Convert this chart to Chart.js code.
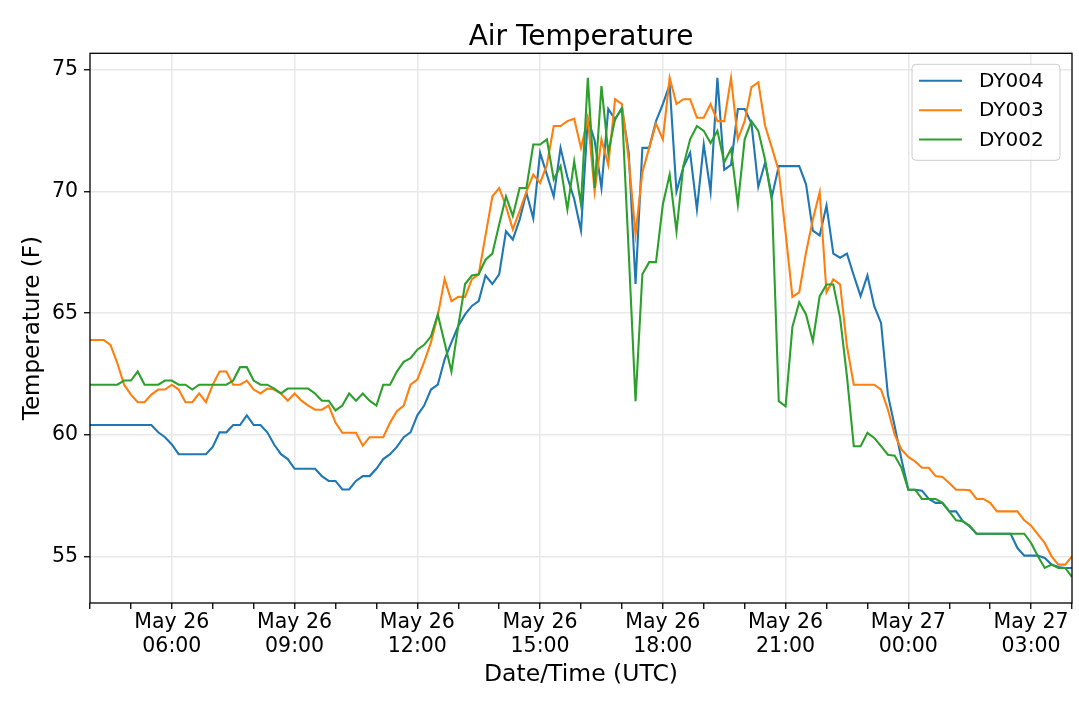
<!DOCTYPE html>
<html>
<head>
<meta charset="utf-8">
<title>Air Temperature</title>
<script src="https://cdn.jsdelivr.net/npm/chart.js@4.4.1/dist/chart.umd.min.js"></script>
<style>
  html, body { margin: 0; padding: 0; background: #fff; }
  #wrap { width: 1079px; height: 706px; position: relative; }
</style>
</head>
<body>
<div id="wrap"><canvas id="air-temp"></canvas></div>
<script>
(function () {
    "use strict";

    // Readings every 10 minutes from May 26 04:00 UTC
    var startHour = 4;
    var startDay = 26;
    var stepMinutes = 10;

    var seriesNames = ["DY004", "DY003", "DY002"];
    var seriesColors = ["#1f77b4", "#ff7f0e", "#2ca02c"];

    var dy004 = [
        60.4, 60.4, 60.4, 60.4, 60.4, 60.4, 60.4, 60.4, 60.4, 60.4,
        60.1, 59.9, 59.6, 59.2, 59.2, 59.2, 59.2, 59.2, 59.5, 60.1,
        60.1, 60.4, 60.4, 60.8, 60.4, 60.4, 60.1, 59.6, 59.2, 59.0,
        58.6, 58.6, 58.6, 58.6, 58.3, 58.1, 58.1, 57.75, 57.75, 58.1,
        58.3, 58.3, 58.6, 59.0, 59.2, 59.5, 59.9, 60.1, 60.8, 61.2,
        61.86, 62.06, 63.1, 63.8, 64.47, 64.95, 65.3, 65.5, 66.55, 66.2,
        66.6, 68.37, 68.03, 68.85, 69.95, 68.9, 71.6, 70.7, 69.8, 71.8,
        70.6, 69.7, 68.4, 73.0, 72.1, 70.15, 73.4, 72.97, 73.45, 71.6,
        66.2, 71.8, 71.8, 72.9, 73.6, 74.4, 70.0, 71.0, 71.6, 69.27,
        71.94, 70.0, 74.68, 70.9, 71.1, 73.4, 73.4, 72.8, 70.2, 71.2,
        69.8, 71.05, 71.05, 71.05, 71.05, 70.3, 68.4, 68.2, 69.43, 67.45,
        67.28, 67.45, 66.55, 65.7, 66.55, 65.29, 64.6, 61.65, 60.35, 58.98,
        57.74, 57.74, 57.7, 57.36, 57.2, 57.2, 56.85, 56.85, 56.44, 56.23,
        55.93, 55.93, 55.93, 55.93, 55.93, 55.93, 55.34, 55.03, 55.03, 55.03,
        54.93, 54.66, 54.56, 54.52, 54.52
    ];

    var dy003 = [
        63.9, 63.9, 63.9, 63.7, 62.95, 62.06, 61.65, 61.34, 61.34, 61.65,
        61.86, 61.86, 62.06, 61.86, 61.34, 61.34, 61.7, 61.34, 62.06, 62.6,
        62.6, 62.06, 62.06, 62.23, 61.86, 61.7, 61.9, 61.86, 61.7, 61.4,
        61.7, 61.4, 61.2, 61.03, 61.03, 61.2, 60.5, 60.08, 60.08, 60.08,
        59.55, 59.9, 59.9, 59.9, 60.5, 60.97, 61.2, 62.06, 62.27, 63.0,
        63.8, 64.9, 66.4, 65.5, 65.67, 65.67, 66.4, 66.6, 68.2, 69.8,
        70.15, 69.4, 68.45, 69.2, 70.0, 70.7, 70.36, 71.1, 72.7, 72.7,
        72.9, 73.0, 71.8, 73.0, 70.0, 72.15, 71.1, 73.8, 73.6, 71.3,
        68.24, 70.8, 71.8, 72.8, 72.15, 74.68, 73.6, 73.8, 73.8, 73.04,
        73.04, 73.6, 72.9, 72.9, 74.68, 72.15, 72.9, 74.3, 74.5, 72.7,
        71.8, 70.85, 68.3, 65.67, 65.86, 67.5, 68.85, 69.98, 65.86, 66.39,
        66.18, 63.64, 62.06, 62.06, 62.06, 62.06, 61.86, 61.04, 60.0, 59.39,
        59.09, 58.9, 58.64, 58.64, 58.3, 58.26, 58.02, 57.74, 57.74, 57.72,
        57.36, 57.36, 57.2, 56.85, 56.85, 56.85, 56.85, 56.48, 56.26, 55.9,
        55.55, 55.0, 54.66, 54.66, 55.0
    ];

    var dy002 = [
        62.06, 62.06, 62.06, 62.06, 62.06, 62.23, 62.23, 62.6, 62.06, 62.06,
        62.06, 62.23, 62.23, 62.06, 62.06, 61.86, 62.06, 62.06, 62.06, 62.06,
        62.06, 62.23, 62.78, 62.78, 62.23, 62.06, 62.06, 61.9, 61.7, 61.9,
        61.9, 61.9, 61.9, 61.7, 61.4, 61.4, 61.0, 61.2, 61.7, 61.4,
        61.7, 61.4, 61.2, 62.06, 62.06, 62.6, 63.0, 63.15, 63.5, 63.7,
        64.05, 64.95, 63.78, 62.6, 64.47, 66.2, 66.55, 66.6, 67.2, 67.45,
        68.65, 69.8, 69.0, 70.15, 70.15, 71.94, 71.94, 72.15, 70.5, 71.05,
        69.27, 71.25, 69.47, 74.68, 70.15, 74.34, 71.6, 73.0, 73.4, 67.5,
        61.38, 66.6, 67.1, 67.1, 69.47, 70.7, 68.37, 71.05, 72.15, 72.7,
        72.5, 72.0, 72.5, 71.2, 71.76, 69.47, 72.15, 72.9, 72.5, 71.3,
        69.6, 61.38, 61.17, 64.44, 65.45, 64.95, 63.85, 65.7, 66.18, 66.18,
        64.8, 62.4, 59.53, 59.53, 60.08, 59.87, 59.53, 59.18, 59.14, 58.64,
        57.74, 57.74, 57.36, 57.36, 57.36, 57.2, 56.85, 56.48, 56.44, 56.26,
        55.93, 55.93, 55.93, 55.93, 55.93, 55.93, 55.93, 55.93, 55.55, 55.0,
        54.52, 54.66, 54.52, 54.52, 54.15
    ];

    var seriesValues = [dy004, dy003, dy002];

    var yTicks = [55, 60, 65, 70, 75];
    var yRange = [53.08, 75.69];
    var xRange = [0, 24];          // hours after start
    var labelEveryHours = 3;

    var gridColor = "#e8e8e8";

    Chart.defaults.font.family = "'DejaVu Sans', sans-serif";
    Chart.defaults.color = "#000";


    // Helpers
    function pad2(n) {
        return (n < 10 ? "0" : "") + n;
    }

    function clockOf(h) {
        return (startHour + h) % 24;
    }

    function isMajor(h) {
        return clockOf(h) % labelEveryHours === 0;
    }

    function toPoints(values) {
        return values.map(function (v, i) {
            return { x: i * stepMinutes / 60, y: v };
        });
    }

    var hourTicks = [];
    for (var h = xRange[0]; h <= xRange[1]; h++) {
        hourTicks.push(h);
    }


    // Frame around the plot area
    var frame = {
        id: "frame",
        afterDatasetsDraw: function (chart) {
            var a = chart.chartArea, ctx = chart.ctx;
            ctx.save();
            ctx.strokeStyle = "#000";
            ctx.lineWidth = 1.3;
            ctx.strokeRect(a.left, a.top, a.right - a.left, a.bottom - a.top);
            ctx.restore();
        }
    };


    // Legend inside the top right corner
    var insetLegend = {
        id: "insetLegend",
        afterDraw: function (chart) {
            var a = chart.chartArea, ctx = chart.ctx;
            var w = 148, h = 96;
            var x = a.right - 12 - w, y = a.top + 11;
            ctx.save();
            ctx.beginPath();
            if (ctx.roundRect) {
                ctx.roundRect(x, y, w, h, 4);
            } else {
                ctx.rect(x, y, w, h);
            }
            ctx.fillStyle = "rgba(255,255,255,0.8)";
            ctx.fill();
            ctx.strokeStyle = "#cccccc";
            ctx.lineWidth = 1;
            ctx.stroke();

            ctx.font = "20px 'DejaVu Sans', sans-serif";
            ctx.textBaseline = "middle";
            ctx.textAlign = "left";
            chart.data.datasets.forEach(function (ds, i) {
                var ry = y + 16.5 + i * 29.4;
                ctx.beginPath();
                ctx.moveTo(x + 7, ry);
                ctx.lineTo(x + 50, ry);
                ctx.strokeStyle = ds.borderColor;
                ctx.lineWidth = 2;
                ctx.stroke();
                ctx.fillStyle = "#000";
                ctx.fillText(ds.label, x + 67, ry + 1);
            });
            ctx.restore();
        }
    };


    // Chart
    var ctx = document.getElementById("air-temp").getContext("2d");
    var myChart = new Chart(ctx, {
        type: "line",
        data: {
            datasets: seriesNames.map(function (name, i) {
                return {
                    label: name,
                    data: toPoints(seriesValues[i]),
                    borderColor: seriesColors[i],
                    backgroundColor: seriesColors[i],
                    borderWidth: 2.1,
                    pointRadius: 0,
                    tension: 0,
                    fill: false,
                    order: seriesNames.length - i
                };
            })
        },
        options: {
            responsive: true,
            maintainAspectRatio: false,
            animation: false,
            layout: { padding: { left: 0, right: 7, top: 0, bottom: 0 } },
            plugins: {
                legend: { display: false },
                tooltip: { enabled: false },
                title: {
                    display: true,
                    fullSize: false,
                    text: "Air Temperature",
                    color: "#000",
                    font: { size: 28, weight: "normal", lineHeight: 1 },
                    padding: { top: 24, bottom: 1.3 }
                }
            },
            scales: {
                x: {
                    type: "linear",
                    min: xRange[0],
                    max: xRange[1],
                    afterBuildTicks: function (s) {
                        s.ticks = hourTicks.map(function (v) { return { value: v }; });
                    },
                    afterFit: function (s) { s.height = 103; },
                    border: { display: false },
                    grid: {
                        color: function (c) {
                            return c.tick && isMajor(c.tick.value) ? gridColor : "rgba(0,0,0,0)";
                        },
                        lineWidth: 1.5,
                        tickColor: "#000",
                        tickLength: 6,
                        tickWidth: 1.3
                    },
                    ticks: {
                        autoSkip: false,
                        maxRotation: 0,
                        minRotation: 0,
                        padding: 2,
                        font: { size: 20.5, lineHeight: 1.17 },
                        callback: function (v) {
                            if (!isMajor(v)) return "";
                            var day = startDay + Math.floor((startHour + v) / 24);
                            return ["May " + day, pad2(clockOf(v)) + ":00"];
                        }
                    },
                    title: {
                        display: true,
                        text: "Date/Time (UTC)",
                        font: { size: 23.5 },
                        padding: { top: 0, bottom: 17 }
                    }
                },
                y: {
                    min: yRange[0],
                    max: yRange[1],
                    afterBuildTicks: function (s) {
                        s.ticks = yTicks.map(function (v) { return { value: v }; });
                    },
                    afterFit: function (s) { s.width = 90; },
                    border: { display: false },
                    grid: {
                        color: gridColor,
                        lineWidth: 1.5,
                        tickColor: "#000",
                        tickLength: 6,
                        tickWidth: 1.3
                    },
                    ticks: {
                        padding: 6,
                        font: { size: 20.5 }
                    },
                    title: {
                        display: true,
                        text: "Temperature (F)",
                        font: { size: 23 },
                        padding: { top: 19, bottom: 0 }
                    }
                }
            }
        },
        plugins: [frame, insetLegend]
    });

})();
</script>
</body>
</html>
